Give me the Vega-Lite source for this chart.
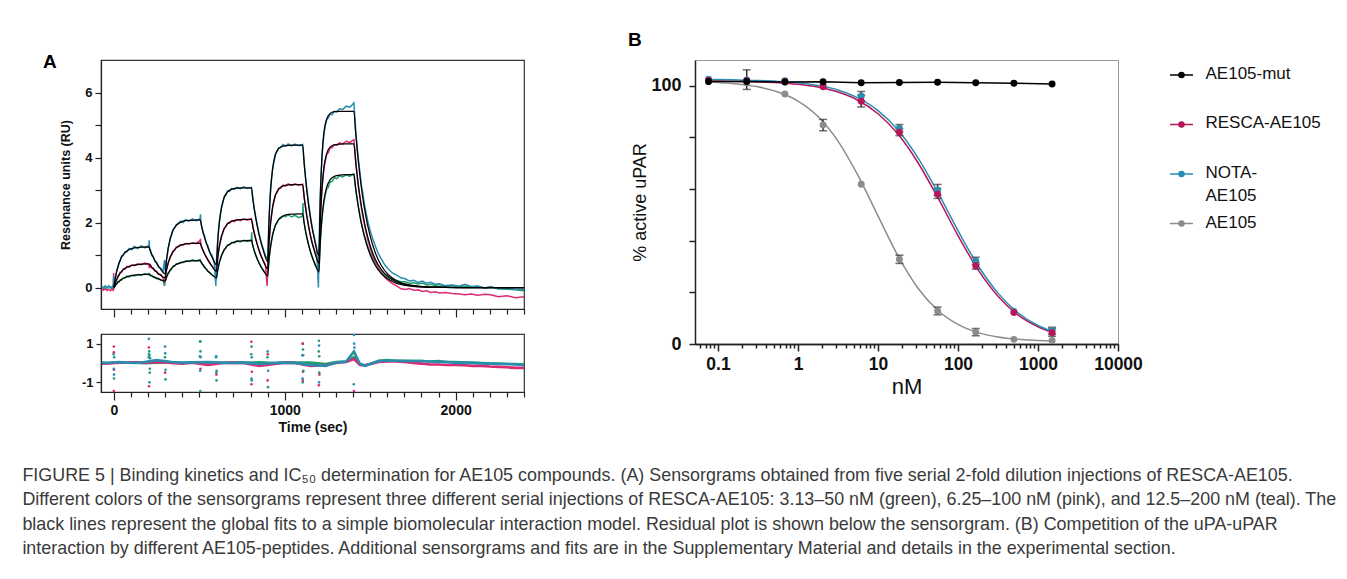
{
"$schema": "https://vega.github.io/schema/vega-lite/v6.json",
"padding": {"left": 22, "top": 30, "right": 0, "bottom": 0},
"background": "white",
"config": {
  "font": "Liberation Sans",
  "axis": {"grid": false, "labelFont": "Liberation Sans", "titleFont": "Liberation Sans", "domainColor": "#222", "tickColor": "#222", "labelColor": "#111", "titleColor": "#111", "labelFlush": false},
  "title": {"font": "Liberation Sans"},
  "text": {"font": "Liberation Sans"}
},
"title": {
  "text": ["FIGURE 5 | Binding kinetics and IC₅₀ determination for AE105 compounds. (A) Sensorgrams obtained from five serial 2-fold dilution injections of RESCA-AE105.",
           "Different colors of the sensorgrams represent three different serial injections of RESCA-AE105: 3.13–50 nM (green), 6.25–100 nM (pink), and 12.5–200 nM (teal). The",
           "black lines represent the global fits to a simple biomolecular interaction model. Residual plot is shown below the sensorgram. (B) Competition of the uPA-uPAR",
           "interaction by different AE105-peptides. Additional sensorgrams and fits are in the Supplementary Material and details in the experimental section."],
  "orient": "bottom", "anchor": "start", "frame": "bounds", "fontSize": 17.9, "fontWeight": "normal", "color": "#3a3a3a", "lineHeight": 24.5, "offset": 32, "dx": -20
},
"datasets": {
"sensor": [
{"t":-70,"T":0.02,"P":-0.04,"G":0.03},{"t":-60,"T":-0.03,"P":-0.08,"G":0.0},{"t":-50,"T":0.04,"P":-0.03,"G":0.05},{"t":-40,"T":0.0,"P":-0.09,"G":-0.02},{"t":-30,"T":0.05,"P":-0.05,"G":0.04},{"t":-20,"T":-0.02,"P":-0.1,"G":0.01},{"t":-10,"T":0.03,"P":-0.06,"G":-0.03},{"t":-3,"T":0.0,"P":-0.08,"G":0.02},{"t":-1,"T":0.35,"P":0.45,"G":0.1},
{"t":0,"T":0.02,"P":-0.06,"G":0.0,"fT":0,"fP":0,"fG":0},
{"t":4,"T":0.15,"P":0.08,"G":0.05},
{"t":8,"T":0.30,"P":0.11,"G":0.04,"fT":0.27,"fP":0.13,"fG":0.06},
{"t":13,"T":0.38,"P":0.22,"G":0.11},
{"t":18,"T":0.55,"P":0.24,"G":0.11,"fT":0.52,"fP":0.26,"fG":0.13},
{"t":24,"T":0.62,"P":0.35,"G":0.18},
{"t":30,"T":0.77,"P":0.37,"G":0.17,"fT":0.74,"fP":0.39,"fG":0.19},
{"t":37,"T":0.82,"P":0.47,"G":0.24},
{"t":45,"T":0.97,"P":0.47,"G":0.23,"fT":0.93,"fP":0.49,"fG":0.25},
{"t":55,"T":0.98,"P":0.57,"G":0.30},
{"t":65,"T":1.10,"P":0.57,"G":0.29,"fT":1.07,"fP":0.59,"fG":0.31},
{"t":77,"T":1.10,"P":0.65,"G":0.35},
{"t":90,"T":1.20,"P":0.63,"G":0.33,"fT":1.17,"fP":0.65,"fG":0.35},
{"t":105,"T":1.16,"P":0.70,"G":0.38},
{"t":120,"T":1.27,"P":0.67,"G":0.36,"fT":1.22,"fP":0.69,"fG":0.38},
{"t":140,"T":1.20,"P":0.73,"G":0.40},
{"t":160,"T":1.28,"P":0.70,"G":0.38,"fT":1.24,"fP":0.72,"fG":0.40},
{"t":182,"T":1.22,"P":0.75,"G":0.42},
{"t":205,"T":1.30,"P":0.71,"G":0.39,"fT":1.25,"fP":0.73,"fG":0.41},
{"t":207,"T":1.45,"P":0.62,"G":0.45},
{"t":210,"T":1.15,"P":0.62,"G":0.40},
{"t":215,"T":1.14,"P":0.69,"G":0.36,"fT":1.11,"fP":0.665,"fG":0.38},
{"t":222,"T":0.98,"P":0.60,"G":0.37},
{"t":230,"T":0.96,"P":0.60,"G":0.32,"fT":0.94,"fP":0.577,"fG":0.34},
{"t":240,"T":0.80,"P":0.51,"G":0.32},
{"t":250,"T":0.78,"P":0.50,"G":0.27,"fT":0.75,"fP":0.478,"fG":0.29},
{"t":262,"T":0.62,"P":0.40,"G":0.28},
{"t":275,"T":0.60,"P":0.40,"G":0.22,"fT":0.56,"fP":0.378,"fG":0.24},
{"t":287,"T":0.48,"P":0.31,"G":0.23},
{"t":297,"T":0.85,"P":0.15,"G":0.05},
{"t":300,"T":0.50,"P":0.33,"G":0.18,"fT":0.42,"fP":0.30,"fG":0.20},
{"t":304,"T":0.62,"P":0.40,"G":0.24},
{"t":308,"T":0.86,"P":0.55,"G":0.33,"fT":0.83,"fP":0.53,"fG":0.31},
{"t":313,"T":1.00,"P":0.63,"G":0.36},
{"t":318,"T":1.22,"P":0.77,"G":0.45,"fT":1.20,"fP":0.75,"fG":0.43},
{"t":324,"T":1.33,"P":0.83,"G":0.47},
{"t":330,"T":1.53,"P":0.95,"G":0.55,"fT":1.50,"fP":0.93,"fG":0.53},
{"t":337,"T":1.60,"P":1.00,"G":0.57},
{"t":345,"T":1.77,"P":1.11,"G":0.65,"fT":1.74,"fP":1.09,"fG":0.63},
{"t":355,"T":1.83,"P":1.14,"G":0.66},
{"t":365,"T":1.93,"P":1.24,"G":0.73,"fT":1.91,"fP":1.22,"fG":0.71},
{"t":377,"T":1.96,"P":1.25,"G":0.73},
{"t":390,"T":2.04,"P":1.32,"G":0.78,"fT":2.01,"fP":1.30,"fG":0.76},
{"t":405,"T":2.00,"P":1.30,"G":0.77},
{"t":420,"T":2.09,"P":1.36,"G":0.82,"fT":2.06,"fP":1.34,"fG":0.80},
{"t":440,"T":2.04,"P":1.33,"G":0.80},
{"t":460,"T":2.11,"P":1.38,"G":0.85,"fT":2.07,"fP":1.36,"fG":0.82},
{"t":482,"T":2.06,"P":1.35,"G":0.82},
{"t":505,"T":2.12,"P":1.45,"G":0.86,"fT":2.08,"fP":1.37,"fG":0.83},
{"t":507,"T":2.25,"P":1.50,"G":0.80},
{"t":510,"T":1.95,"P":1.30,"G":0.78},
{"t":515,"T":1.88,"P":1.22,"G":0.73,"fT":1.86,"fP":1.23,"fG":0.75},
{"t":522,"T":1.68,"P":1.14,"G":0.70},
{"t":530,"T":1.60,"P":1.05,"G":0.62,"fT":1.56,"fP":1.05,"fG":0.635},
{"t":540,"T":1.38,"P":0.95,"G":0.58},
{"t":550,"T":1.30,"P":0.86,"G":0.50,"fT":1.24,"fP":0.85,"fG":0.51},
{"t":562,"T":1.08,"P":0.76,"G":0.46},
{"t":575,"T":0.98,"P":0.66,"G":0.38,"fT":0.93,"fP":0.65,"fG":0.39},
{"t":587,"T":0.80,"P":0.57,"G":0.35},
{"t":597,"T":0.05,"P":0.50,"G":0.30},
{"t":600,"T":0.78,"P":0.52,"G":0.28,"fT":0.70,"fP":0.50,"fG":0.30},
{"t":604,"T":1.12,"P":0.72,"G":0.42},
{"t":608,"T":1.45,"P":0.93,"G":0.56,"fT":1.42,"fP":0.91,"fG":0.54},
{"t":613,"T":1.80,"P":1.12,"G":0.66},
{"t":618,"T":2.05,"P":1.30,"G":0.80,"fT":2.02,"fP":1.28,"fG":0.78},
{"t":624,"T":2.25,"P":1.42,"G":0.87},
{"t":630,"T":2.48,"P":1.59,"G":1.00,"fT":2.46,"fP":1.57,"fG":0.98},
{"t":637,"T":2.58,"P":1.67,"G":1.05},
{"t":645,"T":2.78,"P":1.82,"G":1.17,"fT":2.76,"fP":1.80,"fG":1.15},
{"t":655,"T":2.84,"P":1.86,"G":1.20},
{"t":665,"T":2.97,"P":1.98,"G":1.31,"fT":2.94,"fP":1.96,"fG":1.29},
{"t":677,"T":2.96,"P":1.98,"G":1.31},
{"t":690,"T":3.05,"P":2.06,"G":1.39,"fT":3.03,"fP":2.04,"fG":1.37},
{"t":705,"T":3.02,"P":2.03,"G":1.37},
{"t":720,"T":3.08,"P":2.09,"G":1.44,"fT":3.06,"fP":2.08,"fG":1.42},
{"t":740,"T":3.04,"P":2.06,"G":1.40},
{"t":760,"T":3.10,"P":2.11,"G":1.45,"fT":3.07,"fP":2.10,"fG":1.44},
{"t":782,"T":3.05,"P":2.07,"G":1.42},
{"t":805,"T":3.08,"P":2.12,"G":1.46,"fT":3.07,"fP":2.10,"fG":1.45},
{"t":807,"T":3.00,"P":2.05,"G":1.70},
{"t":810,"T":2.85,"P":2.00,"G":1.36},
{"t":815,"T":2.68,"P":1.84,"G":1.26,"fT":2.66,"fP":1.83,"fG":1.25},
{"t":822,"T":2.42,"P":1.68,"G":1.12},
{"t":830,"T":2.18,"P":1.51,"G":1.01,"fT":2.15,"fP":1.50,"fG":1.00},
{"t":840,"T":1.90,"P":1.32,"G":0.88},
{"t":850,"T":1.65,"P":1.15,"G":0.76,"fT":1.62,"fP":1.14,"fG":0.75},
{"t":862,"T":1.40,"P":0.97,"G":0.64},
{"t":875,"T":1.17,"P":0.82,"G":0.53,"fT":1.14,"fP":0.81,"fG":0.52},
{"t":887,"T":0.98,"P":0.70,"G":0.45},
{"t":897,"T":0.90,"P":0.05,"G":0.40},
{"t":900,"T":0.82,"P":0.60,"G":0.37,"fT":0.80,"fP":0.58,"fG":0.36},
{"t":904,"T":1.50,"P":1.00,"G":0.62},
{"t":908,"T":2.10,"P":1.38,"G":0.86,"fT":2.07,"fP":1.36,"fG":0.85},
{"t":913,"T":2.62,"P":1.72,"G":1.08},
{"t":918,"T":3.08,"P":2.04,"G":1.30,"fT":3.05,"fP":2.02,"fG":1.29},
{"t":924,"T":3.38,"P":2.25,"G":1.45},
{"t":930,"T":3.70,"P":2.52,"G":1.65,"fT":3.69,"fP":2.50,"fG":1.64},
{"t":937,"T":3.86,"P":2.64,"G":1.76},
{"t":945,"T":4.10,"P":2.85,"G":1.92,"fT":4.08,"fP":2.83,"fG":1.91},
{"t":955,"T":4.18,"P":2.92,"G":1.98},
{"t":965,"T":4.30,"P":3.05,"G":2.10,"fT":4.28,"fP":3.03,"fG":2.10},
{"t":977,"T":4.30,"P":3.06,"G":2.13},
{"t":990,"T":4.40,"P":3.15,"G":2.20,"fT":4.35,"fP":3.13,"fG":2.20},
{"t":1005,"T":4.35,"P":3.12,"G":2.18},
{"t":1020,"T":4.42,"P":3.19,"G":2.24,"fT":4.37,"fP":3.16,"fG":2.25},
{"t":1040,"T":4.36,"P":3.14,"G":2.17},
{"t":1060,"T":4.41,"P":3.19,"G":2.22,"fT":4.38,"fP":3.17,"fG":2.26},
{"t":1082,"T":4.36,"P":3.15,"G":2.15},
{"t":1105,"T":4.40,"P":3.18,"G":2.20,"fT":4.38,"fP":3.17,"fG":2.27},
{"t":1107,"T":4.30,"P":3.10,"G":2.60},
{"t":1110,"T":4.05,"P":2.95,"G":2.10},
{"t":1115,"T":3.78,"P":2.74,"G":1.95,"fT":3.74,"fP":2.72,"fG":1.94},
{"t":1122,"T":3.38,"P":2.48,"G":1.74},
{"t":1130,"T":3.00,"P":2.20,"G":1.54,"fT":2.95,"fP":2.17,"fG":1.52},
{"t":1140,"T":2.58,"P":1.90,"G":1.32},
{"t":1150,"T":2.20,"P":1.62,"G":1.12,"fT":2.15,"fP":1.60,"fG":1.11},
{"t":1162,"T":1.82,"P":1.36,"G":0.93},
{"t":1175,"T":1.50,"P":1.13,"G":0.76,"fT":1.45,"fP":1.10,"fG":0.74},
{"t":1187,"T":1.22,"P":0.93,"G":0.62},
{"t":1197,"T":0.0,"P":0.60,"G":0.55},
{"t":1200,"T":1.02,"P":0.78,"G":0.52,"fT":0.98,"fP":0.75,"fG":0.50},
{"t":1204,"T":2.00,"P":1.45,"G":0.95},
{"t":1208,"T":2.80,"P":2.05,"G":1.38,"fT":2.78,"fP":2.06,"fG":1.40},
{"t":1213,"T":3.50,"P":2.60,"G":1.80},
{"t":1218,"T":4.02,"P":3.02,"G":2.12,"fT":4.04,"fP":3.05,"fG":2.15},
{"t":1224,"T":4.45,"P":3.38,"G":2.42},
{"t":1230,"T":4.75,"P":3.70,"G":2.66,"fT":4.79,"fP":3.72,"fG":2.70},
{"t":1237,"T":4.98,"P":3.88,"G":2.84},
{"t":1245,"T":5.15,"P":4.08,"G":3.02,"fT":5.18,"fP":4.11,"fG":3.08},
{"t":1255,"T":5.22,"P":4.15,"G":3.08},
{"t":1265,"T":5.33,"P":4.30,"G":3.25,"fT":5.35,"fP":4.32,"fG":3.31},
{"t":1277,"T":5.32,"P":4.30,"G":3.26},
{"t":1290,"T":5.42,"P":4.40,"G":3.38,"fT":5.41,"fP":4.39,"fG":3.42},
{"t":1305,"T":5.40,"P":4.38,"G":3.35},
{"t":1320,"T":5.50,"P":4.45,"G":3.44,"fT":5.42,"fP":4.41,"fG":3.46},
{"t":1340,"T":5.48,"P":4.42,"G":3.40},
{"t":1360,"T":5.58,"P":4.50,"G":3.47,"fT":5.42,"fP":4.42,"fG":3.47},
{"t":1382,"T":5.55,"P":4.46,"G":3.42},
{"t":1395,"T":5.62,"P":4.52,"G":3.48},
{"t":1405,"T":5.68,"P":4.55,"G":3.50,"fT":5.42,"fP":4.42,"fG":3.47},
{"t":1410,"T":5.25,"P":4.20,"G":3.25},
{"t":1415,"T":4.85,"P":3.92,"G":3.05,"fT":4.76,"fP":3.88,"fG":3.05},
{"t":1420,"T":4.55,"P":3.62,"G":2.85},
{"t":1425,"T":4.25,"P":3.38,"G":2.68,"fT":4.18,"fP":3.41,"fG":2.68},
{"t":1432,"T":3.90,"P":3.05,"G":2.45},
{"t":1440,"T":3.55,"P":2.75,"G":2.22,"fT":3.44,"fP":2.80,"fG":2.20},
{"t":1447,"T":3.20,"P":2.50,"G":2.02},
{"t":1455,"T":2.95,"P":2.25,"G":1.85,"fT":2.83,"fP":2.31,"fG":1.81},
{"t":1465,"T":2.60,"P":1.98,"G":1.62},
{"t":1475,"T":2.32,"P":1.72,"G":1.45,"fT":2.18,"fP":1.78,"fG":1.40},
{"t":1487,"T":2.02,"P":1.45,"G":1.25},
{"t":1500,"T":1.75,"P":1.22,"G":1.08,"fT":1.58,"fP":1.29,"fG":1.01},
{"t":1515,"T":1.50,"P":0.98,"G":0.90},
{"t":1530,"T":1.28,"P":0.80,"G":0.75,"fT":1.07,"fP":0.87,"fG":0.68},
{"t":1547,"T":1.05,"P":0.60,"G":0.60},
{"t":1565,"T":0.88,"P":0.45,"G":0.48,"fT":0.68,"fP":0.55,"fG":0.43},
{"t":1585,"T":0.70,"P":0.32,"G":0.38},
{"t":1605,"T":0.58,"P":0.22,"G":0.32,"fT":0.40,"fP":0.33,"fG":0.26},
{"t":1630,"T":0.45,"P":0.12,"G":0.26},
{"t":1655,"T":0.38,"P":0.05,"G":0.22,"fT":0.21,"fP":0.17,"fG":0.13},
{"t":1680,"T":0.30,"P":-0.04,"G":0.18},
{"t":1705,"T":0.27,"P":-0.06,"G":0.18,"fT":0.11,"fP":0.09,"fG":0.07},
{"t":1730,"T":0.20,"P":-0.03,"G":0.13},
{"t":1755,"T":0.22,"P":-0.08,"G":0.15},
{"t":1780,"T":0.16,"P":-0.07,"G":0.11},
{"t":1805,"T":0.20,"P":-0.12,"G":0.14,"fT":0.03,"fP":0.02,"fG":0.02},
{"t":1830,"T":0.13,"P":-0.10,"G":0.08},
{"t":1855,"T":0.16,"P":-0.15,"G":0.10},
{"t":1880,"T":0.10,"P":-0.13,"G":0.06},
{"t":1905,"T":0.12,"P":-0.17,"G":0.09,"fT":0.01,"fP":0.01,"fG":0.01},
{"t":1940,"T":0.06,"P":-0.15,"G":0.04},
{"t":1980,"T":0.08,"P":-0.18,"G":0.06},
{"t":2020,"T":0.04,"P":-0.20,"G":0.02},
{"t":2055,"T":0.10,"P":-0.22,"G":0.05,"fT":0,"fP":0,"fG":0},
{"t":2090,"T":0.03,"P":-0.20,"G":0.01},
{"t":2130,"T":0.05,"P":-0.24,"G":0.04},
{"t":2170,"T":-0.01,"P":-0.21,"G":-0.02},
{"t":2205,"T":0.03,"P":-0.22,"G":0.02,"fT":0,"fP":0,"fG":0},
{"t":2250,"T":-0.04,"P":-0.28,"G":-0.04},
{"t":2300,"T":-0.02,"P":-0.25,"G":-0.05},
{"t":2350,"T":-0.06,"P":-0.31,"G":-0.07},
{"t":2400,"T":-0.05,"P":-0.28,"G":-0.10,"fT":0,"fP":0,"fG":0}
],
"resid": [
{"t":-70,"T":0.0,"P":-0.03,"G":0.02},{"t":-30,"T":0.01,"P":-0.02,"G":0.0},{"t":30,"T":0.05,"P":0.02,"G":0.03},{"t":80,"T":0.02,"P":0.04,"G":0.01},{"t":130,"T":0.0,"P":0.03,"G":0.02},{"t":180,"T":0.05,"P":0.02,"G":-0.01},{"t":250,"T":0.15,"P":0.05,"G":0.02},{"t":340,"T":0.05,"P":0.0,"G":0.02},{"t":400,"T":0.02,"P":-0.03,"G":0.0},{"t":460,"T":0.03,"P":0.02,"G":0.03},{"t":550,"T":0.05,"P":-0.1,"G":0.02},{"t":640,"T":0.02,"P":0.0,"G":0.0},{"t":700,"T":0.0,"P":0.02,"G":0.03},{"t":760,"T":0.02,"P":0.0,"G":0.02},{"t":850,"T":-0.05,"P":-0.15,"G":0.03},{"t":940,"T":0.0,"P":-0.05,"G":0.0},{"t":1000,"T":0.02,"P":0.02,"G":0.03},{"t":1060,"T":0.0,"P":0.0,"G":0.02},{"t":1150,"T":-0.1,"P":-0.15,"G":0.02},{"t":1240,"T":-0.15,"P":-0.12,"G":-0.05},{"t":1300,"T":0.02,"P":0.0,"G":0.05},{"t":1360,"T":0.08,"P":0.05,"G":0.08},{"t":1405,"T":0.6,"P":0.2,"G":0.3},{"t":1440,"T":-0.05,"P":-0.1,"G":-0.05},{"t":1470,"T":-0.15,"P":-0.12,"G":-0.12},{"t":1500,"T":-0.05,"P":-0.05,"G":-0.05},{"t":1550,"T":0.1,"P":0.05,"G":0.12},{"t":1600,"T":0.12,"P":0.08,"G":0.15},{"t":1650,"T":0.12,"P":0.08,"G":0.12},{"t":1700,"T":0.1,"P":0.05,"G":0.12},{"t":1750,"T":0.1,"P":0.0,"G":0.1},{"t":1800,"T":0.1,"P":-0.03,"G":0.1},{"t":1850,"T":0.08,"P":-0.08,"G":0.08},{"t":1900,"T":0.05,"P":-0.08,"G":0.1},{"t":1950,"T":0.05,"P":-0.1,"G":0.05},{"t":2000,"T":0.0,"P":-0.1,"G":0.05},{"t":2050,"T":0.02,"P":-0.12,"G":0.02},{"t":2100,"T":0.0,"P":-0.15,"G":0.02},{"t":2150,"T":-0.02,"P":-0.15,"G":0.0},{"t":2200,"T":-0.03,"P":-0.18,"G":-0.02},{"t":2250,"T":-0.05,"P":-0.2,"G":-0.03},{"t":2300,"T":-0.05,"P":-0.22,"G":-0.05},{"t":2350,"T":-0.08,"P":-0.25,"G":-0.05},{"t":2400,"T":-0.1,"P":-0.25,"G":-0.08}
],
"spikes": [
{"t":0,"s":"P","r":0.85},{"t":0,"s":"P","r":0.55},{"t":1,"s":"T","r":-0.6},{"t":1,"s":"G","r":-0.8},{"t":0,"s":"P","r":-1.45},{"t":2,"s":"T","r":0.3},{"t":-1,"s":"G","r":0.45},{"t":1,"s":"P","r":-0.35},{"t":0,"s":"T","r":-0.3},
{"t":205,"s":"T","r":1.25},{"t":207,"s":"G","r":0.6},{"t":205,"s":"P","r":0.8},{"t":206,"s":"P","r":-1.2},{"t":208,"s":"T","r":-1.0},{"t":204,"s":"G","r":0.3},{"t":210,"s":"G","r":-0.5},{"t":206,"s":"G","r":0.45},{"t":209,"s":"T","r":0.4},{"t":211,"s":"G","r":-0.3},{"t":212,"s":"T","r":0.25},
{"t":300,"s":"T","r":0.85},{"t":301,"s":"T","r":0.5},{"t":300,"s":"P","r":-0.5},{"t":302,"s":"G","r":-0.85},{"t":299,"s":"G","r":0.3},{"t":303,"s":"T","r":-0.35},
{"t":505,"s":"T","r":1.1},{"t":506,"s":"G","r":1.12},{"t":507,"s":"G","r":0.6},{"t":505,"s":"T","r":-0.4},{"t":506,"s":"G","r":-1.45},{"t":504,"s":"G","r":0.35},{"t":508,"s":"T","r":0.3},{"t":507,"s":"P","r":-0.3},
{"t":600,"s":"T","r":-0.5},{"t":601,"s":"G","r":-0.9},{"t":600,"s":"P","r":-0.6},{"t":598,"s":"G","r":0.3},{"t":602,"s":"G","r":-0.4},{"t":599,"s":"T","r":0.35},
{"t":805,"s":"P","r":1.1},{"t":806,"s":"G","r":0.85},{"t":807,"s":"G","r":-0.9},{"t":805,"s":"P","r":-1.1},{"t":806,"s":"T","r":-0.8},{"t":804,"s":"G","r":0.45},{"t":808,"s":"P","r":-0.45},{"t":807,"s":"T","r":0.3},
{"t":900,"s":"T","r":0.6},{"t":901,"s":"P","r":0.45},{"t":900,"s":"P","r":-0.9},{"t":902,"s":"G","r":-1.25},{"t":899,"s":"G","r":0.3},{"t":903,"s":"T","r":-0.4},
{"t":1105,"s":"T","r":1.0},{"t":1106,"s":"P","r":1.0},{"t":1107,"s":"G","r":0.7},{"t":1105,"s":"G","r":-1.0},{"t":1106,"s":"P","r":-0.9},{"t":1104,"s":"T","r":-0.8},{"t":1103,"s":"G","r":0.4},{"t":1108,"s":"T","r":0.4},{"t":1107,"s":"P","r":-0.45},{"t":1109,"s":"G","r":-0.4},
{"t":1200,"s":"G","r":1.15},{"t":1201,"s":"T","r":0.9},{"t":1200,"s":"P","r":-1.15},{"t":1202,"s":"G","r":-0.5},{"t":1201,"s":"T","r":-1.0},{"t":1199,"s":"G","r":0.6},{"t":1203,"s":"P","r":-0.6},{"t":1202,"s":"G","r":0.35},
{"t":1405,"s":"T","r":1.45},{"t":1406,"s":"T","r":1.0},{"t":1404,"s":"T","r":-1.1},{"t":1405,"s":"P","r":-1.45},{"t":1407,"s":"G","r":0.5},{"t":1408,"s":"T","r":0.8}
],
"ic": [
{"c":0.0762,"compound":"AE105","v":101.6},{"c":0.2286,"compound":"AE105","v":101.3},{"c":0.686,"compound":"AE105","v":96.8},{"c":2.058,"compound":"AE105","v":84.8,"lo":82.6,"hi":87.0},{"c":6.17,"compound":"AE105","v":61.9},{"c":18.52,"compound":"AE105","v":32.8,"lo":31.2,"hi":34.4},{"c":55.56,"compound":"AE105","v":12.8,"lo":11.3,"hi":14.3},{"c":166.7,"compound":"AE105","v":4.6,"lo":3.2,"hi":6.0},{"c":500,"compound":"AE105","v":1.8},{"c":1500,"compound":"AE105","v":1.4},
{"c":0.0762,"compound":"NOTA-AE105","v":102.6},{"c":0.2286,"compound":"NOTA-AE105","v":102.3,"lo":98.6,"hi":106.2},{"c":0.686,"compound":"NOTA-AE105","v":102.0},{"c":2.058,"compound":"NOTA-AE105","v":100.2},{"c":6.17,"compound":"NOTA-AE105","v":96.0,"lo":94.2,"hi":97.8},{"c":18.52,"compound":"NOTA-AE105","v":83.6,"lo":82.2,"hi":85.0},{"c":55.56,"compound":"NOTA-AE105","v":59.6,"lo":57.6,"hi":61.8},{"c":166.7,"compound":"NOTA-AE105","v":32.2,"lo":30.8,"hi":33.6},{"c":500,"compound":"NOTA-AE105","v":12.6},{"c":1500,"compound":"NOTA-AE105","v":5.2,"lo":3.8,"hi":6.5},
{"c":0.0762,"compound":"RESCA-AE105","v":102.1},{"c":0.2286,"compound":"RESCA-AE105","v":102.0},{"c":0.686,"compound":"RESCA-AE105","v":101.6},{"c":2.058,"compound":"RESCA-AE105","v":99.6},{"c":6.17,"compound":"RESCA-AE105","v":94.0,"lo":91.8,"hi":96.4},{"c":18.52,"compound":"RESCA-AE105","v":82.0,"lo":80.7,"hi":83.4},{"c":55.56,"compound":"RESCA-AE105","v":58.0,"lo":56.4,"hi":60.2},{"c":166.7,"compound":"RESCA-AE105","v":30.3,"lo":29.0,"hi":31.6},{"c":500,"compound":"RESCA-AE105","v":12.2},{"c":1500,"compound":"RESCA-AE105","v":4.4,"lo":3.0,"hi":5.9},
{"c":0.0762,"compound":"AE105-mut","v":101.7},{"c":0.2286,"compound":"AE105-mut","v":101.7},{"c":0.686,"compound":"AE105-mut","v":101.5},{"c":2.058,"compound":"AE105-mut","v":101.6},{"c":6.17,"compound":"AE105-mut","v":101.2},{"c":18.52,"compound":"AE105-mut","v":101.3},{"c":55.56,"compound":"AE105-mut","v":101.4},{"c":166.7,"compound":"AE105-mut","v":101.2},{"c":500,"compound":"AE105-mut","v":101.0},{"c":1500,"compound":"AE105-mut","v":100.7}
],
"icfit": [
{"c":0.0762,"compound":"AE105","v":101.5},{"c":0.1,"compound":"AE105","v":101.3},{"c":0.178,"compound":"AE105","v":100.7},{"c":0.316,"compound":"AE105","v":99.6},{"c":0.562,"compound":"AE105","v":97.6},{"c":1,"compound":"AE105","v":94.1},{"c":1.778,"compound":"AE105","v":88.1},{"c":3.162,"compound":"AE105","v":78.6},{"c":5.623,"compound":"AE105","v":65.3},{"c":10,"compound":"AE105","v":49.6},{"c":17.78,"compound":"AE105","v":34.1},{"c":31.62,"compound":"AE105","v":21.6},{"c":56.23,"compound":"AE105","v":13.0},{"c":100,"compound":"AE105","v":7.6},{"c":177.8,"compound":"AE105","v":4.4},{"c":316.2,"compound":"AE105","v":2.7},{"c":562.3,"compound":"AE105","v":1.8},{"c":1000,"compound":"AE105","v":1.4},{"c":1500,"compound":"AE105","v":1.2},
{"c":0.0762,"compound":"RESCA-AE105","v":101.9},{"c":0.1,"compound":"RESCA-AE105","v":101.85},{"c":0.178,"compound":"RESCA-AE105","v":101.7},{"c":0.316,"compound":"RESCA-AE105","v":101.5},{"c":0.562,"compound":"RESCA-AE105","v":101.2},{"c":1,"compound":"RESCA-AE105","v":100.6},{"c":1.778,"compound":"RESCA-AE105","v":99.5},{"c":3.162,"compound":"RESCA-AE105","v":97.6},{"c":5.623,"compound":"RESCA-AE105","v":94.4},{"c":10,"compound":"RESCA-AE105","v":89.2},{"c":17.78,"compound":"RESCA-AE105","v":81.3},{"c":31.62,"compound":"RESCA-AE105","v":70.2},{"c":56.23,"compound":"RESCA-AE105","v":56.6},{"c":100,"compound":"RESCA-AE105","v":42.0},{"c":177.8,"compound":"RESCA-AE105","v":28.8},{"c":316.2,"compound":"RESCA-AE105","v":18.5},{"c":562.3,"compound":"RESCA-AE105","v":11.3},{"c":1000,"compound":"RESCA-AE105","v":6.7},{"c":1500,"compound":"RESCA-AE105","v":4.55},
{"c":0.0762,"compound":"NOTA-AE105","v":102.4},{"c":0.1,"compound":"NOTA-AE105","v":102.4},{"c":0.178,"compound":"NOTA-AE105","v":102.3},{"c":0.316,"compound":"NOTA-AE105","v":102.1},{"c":0.562,"compound":"NOTA-AE105","v":101.7},{"c":1,"compound":"NOTA-AE105","v":101.2},{"c":1.778,"compound":"NOTA-AE105","v":100.1},{"c":3.162,"compound":"NOTA-AE105","v":98.4},{"c":5.623,"compound":"NOTA-AE105","v":95.3},{"c":10,"compound":"NOTA-AE105","v":90.4},{"c":17.78,"compound":"NOTA-AE105","v":82.9},{"c":31.62,"compound":"NOTA-AE105","v":72.1},{"c":56.23,"compound":"NOTA-AE105","v":58.6},{"c":100,"compound":"NOTA-AE105","v":43.9},{"c":177.8,"compound":"NOTA-AE105","v":30.4},{"c":316.2,"compound":"NOTA-AE105","v":19.7},{"c":562.3,"compound":"NOTA-AE105","v":12.1},{"c":1000,"compound":"NOTA-AE105","v":7.15},{"c":1500,"compound":"NOTA-AE105","v":4.9}
],
"leg": [
{"name":"AE105-mut","label":"AE105-mut"},{"name":"RESCA-AE105","label":"RESCA-AE105"},{"name":"NOTA-AE105","label":"NOTA-\nAE105"},{"name":"AE105","label":"AE105"}
]
},
"resolve": {"scale": {"color": "independent"}},
"spacing": 97,
"hconcat": [
 {
  "spacing": 14,
  "resolve": {"scale": {"color": "independent"}},
  "vconcat": [
   {
    "width": 423, "height": 249,
    "title": {"text": "A", "anchor": "start", "frame": "group", "fontSize": 19, "fontWeight": "bold", "color": "#000", "dx": -58, "offset": -12},
    "view": {"stroke": "#333", "strokeWidth": 1.2},
    "resolve": {"axis": {"x": "independent"}},
    "layer": [
     {"mark": {"type": "rule", "strokeDash": [2, 2], "color": "#999", "strokeWidth": 1},
      "encoding": {"y": {"datum": 0, "type": "quantitative", "scale": {"domain": [-0.66, 7], "nice": false, "zero": false}}}},
     {"data": {"name": "sensor"},
      "transform": [{"fold": ["G", "P", "T"], "as": ["s", "v"]}, {"filter": "isValid(datum.v)"}],
      "mark": {"type": "line", "strokeWidth": 1.5, "interpolate": "linear"},
      "encoding": {
        "x": {"field": "t", "type": "quantitative", "scale": {"domain": [-75, 2400], "nice": false, "zero": false},
              "axis": {"orient": "bottom", "values": [100,200,300,400,500,600,700,800,900,1100,1200,1300,1400,1500,1600,1700,1800,1900,2100,2200,2300,2400], "labels": false, "tickSize": 5, "tickWidth": 1.2, "domainWidth": 1.2, "title": null}},
        "y": {"field": "v", "type": "quantitative", "scale": {"domain": [-0.66, 7], "nice": false, "zero": false},
              "axis": {"values": [0,1,2,3,4,5,6], "labelExpr": "datum.value % 2 === 0 ? datum.label : ''", "tickSize": 6, "tickWidth": 1.2, "domainWidth": 1.2, "labelFontSize": 13, "labelFontWeight": "bold", "labelPadding": 3, "title": "Resonance units (RU)", "titleFontSize": 12.5, "titleFontWeight": "bold", "titlePadding": 12}},
        "color": {"field": "s", "type": "nominal", "scale": {"domain": ["G", "P", "T"], "range": ["#1f9e6b", "#dc2a73", "#2a8db0"]}, "legend": null}
      }},
     {"data": {"name": "sensor"},
      "transform": [{"fold": ["fG", "fP", "fT"], "as": ["s", "v"]}, {"filter": "isValid(datum.v)"}],
      "mark": {"type": "line", "strokeWidth": 1.25, "color": "#000", "interpolate": "monotone"},
      "encoding": {
        "x": {"field": "t", "type": "quantitative", "scale": {"domain": [-75, 2400], "nice": false, "zero": false},
              "axis": {"orient": "bottom", "values": [0, 1000, 2000], "labels": false, "tickSize": 8, "tickWidth": 1.2, "domainWidth": 1.2, "title": null}},
        "y": {"field": "v", "type": "quantitative"},
        "detail": {"field": "s", "type": "nominal"}
      }}
    ]
   },
   {
    "width": 423, "height": 58,
    "view": {"stroke": "#333", "strokeWidth": 1.2},
    "resolve": {"axis": {"x": "independent"}},
    "layer": [
     {"data": {"name": "resid"},
      "transform": [{"fold": ["G", "P", "T"], "as": ["s", "v"]}],
      "mark": {"type": "line", "strokeWidth": 2.6},
      "encoding": {
        "x": {"field": "t", "type": "quantitative", "scale": {"domain": [-75, 2400], "nice": false, "zero": false},
              "axis": {"orient": "bottom", "values": [0, 1000, 2000], "format": "d", "tickSize": 8, "tickWidth": 1.2, "domainWidth": 1.2, "labelFontSize": 14, "labelFontWeight": "bold", "labelPadding": 3, "title": "Time (sec)", "titleFontSize": 14, "titleFontWeight": "bold", "titlePadding": 3}},
        "y": {"field": "v", "type": "quantitative", "scale": {"domain": [-1.5, 1.5], "nice": false, "zero": false},
              "axis": {"values": [-1, -0.5, 0, 0.5, 1], "labelExpr": "datum.value % 1 === 0 ? replace(datum.label, '−', '-') : ''", "tickSize": 5, "tickWidth": 1.2, "domainWidth": 1.2, "labelFontSize": 13, "labelFontWeight": "bold", "labelPadding": 3, "title": null}},
        "color": {"field": "s", "type": "nominal", "scale": {"domain": ["G", "P", "T"], "range": ["#1f9e6b", "#dc2a73", "#2a8db0"]}, "legend": null}
      }},
     {"data": {"name": "spikes"},
      "mark": {"type": "circle", "size": 7, "opacity": 1},
      "encoding": {
        "x": {"field": "t", "type": "quantitative", "scale": {"domain": [-75, 2400], "nice": false, "zero": false},
              "axis": {"orient": "bottom", "values": [100,200,300,400,500,600,700,800,900,1100,1200,1300,1400,1500,1600,1700,1800,1900,2100,2200,2300,2400], "labels": false, "tickSize": 5, "tickWidth": 1.2, "domainWidth": 1.2, "title": null}},
        "y": {"field": "r", "type": "quantitative"},
        "color": {"field": "s", "type": "nominal", "scale": {"domain": ["G", "P", "T"], "range": ["#1f9e6b", "#dc2a73", "#2a8db0"]}, "legend": null}
      }}
    ]
   }
  ]
 },
 {
  "spacing": 26,
  "resolve": {"scale": {"color": "independent"}},
  "hconcat": [
   {
    "width": 423, "height": 284,
    "title": {"text": "B", "anchor": "start", "frame": "group", "fontSize": 19, "fontWeight": "bold", "color": "#000", "dx": -67, "offset": 10},
    "view": {"stroke": "#999", "strokeWidth": 1},
    "resolve": {"axis": {"x": "independent"}},
    "layer": [
     {"data": {"name": "icfit"},
      "mark": {"type": "line", "strokeWidth": 1.5, "interpolate": "monotone"},
      "encoding": {
        "x": {"field": "c", "type": "quantitative", "scale": {"type": "log", "domain": [0.0516, 10000], "nice": false},
              "axis": {"orient": "bottom", "values": [0.1, 1, 10, 100, 1000, 10000], "format": "~g", "tickSize": 7, "tickWidth": 1.5, "domainWidth": 1.5, "labelFontSize": 17.5, "labelFontWeight": "bold", "labelPadding": 4, "title": "nM", "titleFontSize": 22, "titleFontWeight": "normal", "titlePadding": 4}},
        "y": {"field": "v", "type": "quantitative", "scale": {"domain": [0, 110], "nice": false},
              "axis": {"values": [0,10,20,30,40,50,60,70,80,90,100,110], "labelExpr": "datum.value % 50 === 0 ? datum.label : ''", "tickSize": 6, "tickWidth": 1.5, "domainWidth": 1.5, "labelFontSize": 18, "labelFontWeight": "bold", "labelPadding": 8, "title": "% active uPAR", "titleFontSize": 18, "titleFontWeight": "normal", "titlePadding": 1}},
        "color": {"field": "compound", "type": "nominal", "scale": {"domain": ["AE105-mut", "RESCA-AE105", "NOTA-AE105", "AE105"], "range": ["#000000", "#b8155a", "#2b8db0", "#8c8c8c"]}, "legend": null}
      }},
     {"data": {"name": "ic"},
      "transform": [{"filter": "datum.compound === 'AE105-mut'"}],
      "mark": {"type": "line", "strokeWidth": 1.5, "color": "#000"},
      "encoding": {
        "x": {"field": "c", "type": "quantitative", "axis": null},
        "y": {"field": "v", "type": "quantitative"}
      }},
     {"data": {"name": "ic"},
      "transform": [{"filter": "isValid(datum.lo)"}],
      "mark": {"type": "rule", "strokeWidth": 1.5, "color": "#333"},
      "encoding": {
        "x": {"field": "c", "type": "quantitative", "axis": null},
        "y": {"field": "lo", "type": "quantitative"},
        "y2": {"field": "hi"}
      }},
     {"data": {"name": "ic"},
      "transform": [{"filter": "isValid(datum.lo)"}],
      "mark": {"type": "tick", "orient": "horizontal", "size": 8, "thickness": 1.5, "color": "#333"},
      "encoding": {
        "x": {"field": "c", "type": "quantitative", "axis": null},
        "y": {"field": "lo", "type": "quantitative"}
      }},
     {"data": {"name": "ic"},
      "transform": [{"filter": "isValid(datum.hi)"}],
      "mark": {"type": "tick", "orient": "horizontal", "size": 8, "thickness": 1.5, "color": "#333"},
      "encoding": {
        "x": {"field": "c", "type": "quantitative", "axis": null},
        "y": {"field": "hi", "type": "quantitative"}
      }},
     {"data": {"name": "ic"},
      "mark": {"type": "circle", "size": 48, "opacity": 1},
      "encoding": {
        "x": {"field": "c", "type": "quantitative",
              "axis": {"orient": "bottom", "values": [0.06,0.07,0.08,0.09,0.2,0.3,0.4,0.5,0.6,0.7,0.8,0.9,2,3,4,5,6,7,8,9,20,30,40,50,60,70,80,90,200,300,400,500,600,700,800,900,2000,3000,4000,5000,6000,7000,8000,9000], "labels": false, "tickSize": 4, "tickWidth": 1.5, "domainWidth": 1.5, "title": null}},
        "y": {"field": "v", "type": "quantitative"},
        "color": {"field": "compound", "type": "nominal", "legend": null}
      }}
    ]
   },
   {
    "data": {"name": "leg"},
    "width": 23, "height": 178.5,
    "view": {"stroke": null},
    "encoding": {
      "y": {"field": "name", "type": "nominal", "scale": {"type": "point", "domain": ["AE105-mut", "RESCA-AE105", "NOTA-AE105", "AE105"], "padding": 0.303}, "axis": null}
    },
    "layer": [
     {"mark": {"type": "rule", "strokeWidth": 1.5},
      "encoding": {"color": {"field": "name", "type": "nominal", "scale": {"domain": ["AE105-mut", "RESCA-AE105", "NOTA-AE105", "AE105"], "range": ["#000000", "#b8155a", "#2b8db0", "#8c8c8c"]}, "legend": null}}},
     {"mark": {"type": "circle", "size": 42, "opacity": 1},
      "encoding": {"color": {"field": "name", "type": "nominal", "legend": null}}},
     {"mark": {"type": "text", "align": "left", "baseline": "top", "dx": 24, "dy": -9, "fontSize": 17, "lineBreak": "\n", "color": "#111", "lineHeight": 23},
      "encoding": {"text": {"field": "label", "type": "nominal"}}}
    ]
   }
  ]
 }
]
}
